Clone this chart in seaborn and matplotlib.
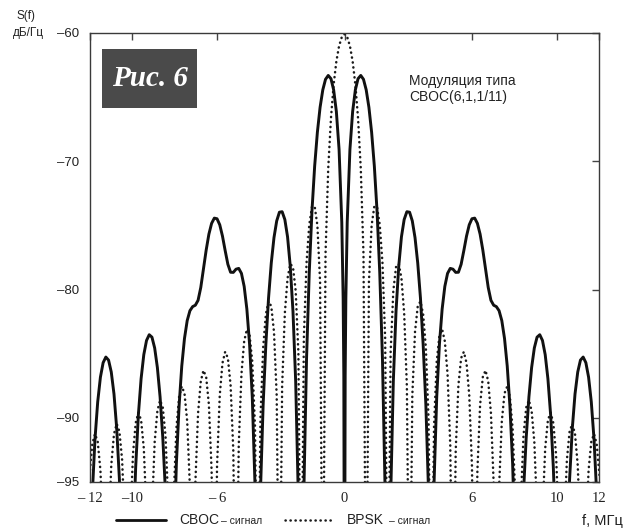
import matplotlib
matplotlib.use("Agg")
import matplotlib.pyplot as plt
import seaborn as sns
import pandas as pd
from matplotlib.lines import Line2D
from matplotlib.patches import Rectangle

# ---------------- data ----------------
freq_neg = [-12.020, -11.892, -11.765, -11.637, -11.509, -11.381,
            -11.253, -11.125, -10.997, -10.869, -10.742, -10.614, -10.486, -10.358,
            -10.230, -10.102, -9.974, -9.846, -9.719, -9.591, -9.463, -9.335,
            -9.207, -9.079, -8.951, -8.823, -8.696, -8.568, -8.440, -8.312,
            -8.184, -8.056, -7.928, -7.800, -7.673, -7.545, -7.417, -7.289,
            -7.161, -7.033, -6.905, -6.777, -6.650, -6.522, -6.394, -6.266,
            -6.138, -6.010, -5.882, -5.754, -5.627, -5.499, -5.371, -5.243,
            -5.115, -4.987, -4.859, -4.731, -4.604, -4.476, -4.348, -4.220,
            -4.092, -3.964, -3.836, -3.708, -3.581, -3.453, -3.325, -3.197,
            -3.069, -2.941, -2.813, -2.685, -2.558, -2.430, -2.302, -2.174,
            -2.046, -1.918, -1.790, -1.662, -1.535, -1.407, -1.279, -1.151,
            -1.023, -0.895, -0.767, -0.639, -0.512, -0.384, -0.256, -0.128,
            -0.064, -0.032]
freq_zero = [0.0]
freq_pos = [0.032, 0.064,
            0.128, 0.256, 0.384, 0.512, 0.639, 0.767, 0.895, 1.023,
            1.151, 1.279, 1.407, 1.535, 1.662, 1.790, 1.918, 2.046,
            2.174, 2.302, 2.430, 2.558, 2.685, 2.813, 2.941, 3.069,
            3.197, 3.325, 3.453, 3.581, 3.708, 3.836, 3.964, 4.092,
            4.220, 4.348, 4.476, 4.604, 4.731, 4.859, 4.987, 5.115,
            5.243, 5.371, 5.499, 5.627, 5.754, 5.882, 6.010, 6.138,
            6.266, 6.394, 6.522, 6.650, 6.777, 6.905, 7.033, 7.161,
            7.289, 7.417, 7.545, 7.673, 7.800, 7.928, 8.056, 8.184,
            8.312, 8.440, 8.568, 8.696, 8.823, 8.951, 9.079, 9.207,
            9.335, 9.463, 9.591, 9.719, 9.846, 9.974, 10.102, 10.230,
            10.358, 10.486, 10.614, 10.742, 10.869, 10.997, 11.125, 11.253,
            11.381, 11.509, 11.637, 11.765, 11.892, 12.020]

cboc_neg = [-102.51, -95.95, -91.66, -88.76, -86.83, -85.70,
            -85.26, -85.50, -86.43, -88.14, -90.80, -94.77, -100.76, -110.57,
            -110.0, -109.75, -99.90, -93.84, -89.76, -86.95, -85.07, -83.97,
            -83.52, -83.71, -84.55, -86.08, -88.36, -91.53, -95.82, -102.26,
            -110.0, -100.84, -93.61, -89.09, -85.96, -83.81, -82.42, -81.65,
            -81.33, -81.22, -80.84, -79.84, -78.41, -76.92, -75.68, -74.84,
            -74.43, -74.48, -74.95, -75.83, -76.96, -78.03, -78.65, -78.66,
            -78.41, -78.35, -78.74, -79.75, -81.52, -84.26, -88.39, -95.22,
            -110.0, -95.83, -88.97, -84.26, -80.65, -77.93, -75.95, -74.65,
            -73.97, -73.93, -74.54, -75.89, -78.17, -81.68, -87.16, -96.41,
            -110.0, -95.92, -85.41, -78.67, -73.90, -70.38, -67.74, -65.79,
            -64.43, -63.61, -63.31, -63.56, -64.43, -66.12, -69.07, -74.75,
            -80.67, -86.69]
cboc_zero = [-110.0]
cboc_pos = [-86.69, -80.67,
            -74.75, -69.07, -66.12, -64.43, -63.56, -63.31, -63.61, -64.43,
            -65.79, -67.74, -70.38, -73.90, -78.67, -85.41, -95.92, -110.0,
            -96.41, -87.16, -81.68, -78.17, -75.89, -74.54, -73.93, -73.97,
            -74.65, -75.95, -77.93, -80.65, -84.26, -88.97, -95.83, -110.0,
            -95.22, -88.39, -84.26, -81.52, -79.75, -78.74, -78.35, -78.41,
            -78.66, -78.65, -78.03, -76.96, -75.83, -74.95, -74.48, -74.43,
            -74.84, -75.68, -76.92, -78.41, -79.84, -80.84, -81.22, -81.33,
            -81.65, -82.42, -83.81, -85.96, -89.09, -93.61, -100.84, -110.0,
            -102.26, -95.82, -91.53, -88.36, -86.08, -84.55, -83.71, -83.52,
            -83.97, -85.07, -86.95, -89.76, -93.84, -99.90, -109.75, -110.0,
            -110.57, -100.76, -94.77, -90.80, -88.14, -86.43, -85.50, -85.26,
            -85.70, -86.83, -88.76, -91.66, -95.95, -102.51]

bpsk_neg = [-94.45, -92.04, -91.25, -91.85, -94.07, -99.31,
            -110.0, -99.11, -93.68, -91.26, -90.46, -91.05, -93.26, -98.49,
            -110.0, -98.27, -92.83, -90.40, -89.59, -90.17, -92.37, -97.59,
            -110.0, -97.34, -91.89, -89.45, -88.63, -89.19, -91.38, -96.58,
            -110.0, -96.31, -90.84, -88.38, -87.54, -88.09, -90.26, -95.44,
            -110.0, -95.13, -89.64, -87.15, -86.30, -86.82, -88.97, -94.12,
            -110.0, -93.76, -88.24, -85.73, -84.85, -85.34, -87.45, -92.57,
            -110.0, -92.14, -86.58, -84.03, -83.10, -83.55, -85.62, -90.69,
            -110.0, -90.15, -84.53, -81.92, -80.92, -81.30, -83.29, -88.28,
            -110.0, -87.55, -81.84, -79.11, -78.00, -78.24, -80.09, -84.93,
            -110.0, -83.84, -77.91, -74.95, -73.56, -73.50, -74.99, -79.40,
            -110.0, -77.22, -70.55, -66.65, -64.02, -62.21, -61.01, -60.32,
            -60.16, -60.11]
bpsk_zero = [-60.10]
bpsk_pos = [-60.11, -60.16,
            -60.32, -61.01, -62.21, -64.02, -66.65, -70.55, -77.22, -110.0,
            -79.40, -74.99, -73.50, -73.56, -74.95, -77.91, -83.84, -110.0,
            -84.93, -80.09, -78.24, -78.00, -79.11, -81.84, -87.55, -110.0,
            -88.28, -83.29, -81.30, -80.92, -81.92, -84.53, -90.15, -110.0,
            -90.69, -85.62, -83.55, -83.10, -84.03, -86.58, -92.14, -110.0,
            -92.57, -87.45, -85.34, -84.85, -85.73, -88.24, -93.76, -110.0,
            -94.12, -88.97, -86.82, -86.30, -87.15, -89.64, -95.13, -110.0,
            -95.44, -90.26, -88.09, -87.54, -88.38, -90.84, -96.31, -110.0,
            -96.58, -91.38, -89.19, -88.63, -89.45, -91.89, -97.34, -110.0,
            -97.59, -92.37, -90.17, -89.59, -90.40, -92.83, -98.27, -110.0,
            -98.49, -93.26, -91.05, -90.46, -91.26, -93.68, -99.11, -110.0,
            -99.31, -94.07, -91.85, -91.25, -92.04, -94.45]

x_ticks = [-12, -10, -6, 0, 6, 10, 12]
x_tick_labels = ["\u2013 12", "\u201310", "\u2013 6", "0", "6", "10", "12"]
y_ticks = [-95, -90, -80, -70, -60]
y_tick_labels = ["\u201395", "\u201390", "\u201380", "\u201370", "\u201360"]

# ---------------- figure ----------------
sns.set_theme(style="white")
plt.rcParams['font.family'] = ['Liberation Sans', 'DejaVu Sans']

W, H = 627, 531
fig = plt.figure(figsize=(W / 100, H / 100), dpi=100)
fig.patch.set_facecolor("white")


def px(x, y):
    return x / W, 1 - y / H


ax = fig.add_axes([90 / W, 1 - 482 / H, 509 / W, 449 / H])
ax.set_facecolor("white")

df = pd.DataFrame({
    "f": freq_neg + freq_zero + freq_pos,
    "CBOC": cboc_neg + cboc_zero + cboc_pos,
    "BPSK": bpsk_neg + bpsk_zero + bpsk_pos,
})

sns.lineplot(data=df, x="f", y="BPSK", ax=ax, color="#1a1a1a", lw=1.8,
             linestyle=(0, (0.1, 1.9)), dash_capstyle="round",
             estimator=None, legend=False)
sns.lineplot(data=df, x="f", y="CBOC", ax=ax, color="#111111", lw=2.1,
             estimator=None, legend=False)

ax.set_xlim(-12, 12)
ax.set_ylim(-95, -60)
ax.set_xlabel("")
ax.set_ylabel("")
ax.set_xticks(x_ticks)
ax.set_xticklabels(x_tick_labels, fontfamily="Liberation Serif", fontsize=10.5)
ax.set_yticks(y_ticks)
ax.set_yticklabels(y_tick_labels, fontsize=9.5)
ax.tick_params(axis="both", direction="in", length=5, width=1.0,
               color="#444444", top=True, right=True, labelcolor="#222222")
ax.tick_params(axis="y", pad=8)
ax.tick_params(axis="x", pad=7)
for s in ax.spines.values():
    s.set_color("#3a3a3a")
    s.set_linewidth(1.0)
    s.set_visible(True)

# y-axis label
fig.text(*px(26, 16), "S(f)", ha="center", va="center", fontsize=8.5, color="#222222")
fig.text(*px(28, 33), "дБ/Гц", ha="center", va="center", fontsize=8.5, color="#222222")

# "Рис. 6" badge
fig.add_artist(Rectangle(px(102, 108), 95 / W, 59 / H, transform=fig.transFigure,
                         facecolor="#4a4a4a", edgecolor="none", zorder=5))
fig.text(*px(150, 79), "Рис. 6", ha="center", va="center", fontsize=21,
         fontfamily="Liberation Serif", fontweight="bold", fontstyle="italic",
         color="white", zorder=6)

# annotation
fig.text(*px(409, 81), "Модуляция типа", ha="left", va="center", fontsize=10, color="#222222")
fig.text(*px(409, 97), "CBOC(6,1,1/11)", ha="left", va="center", fontsize=10, color="#222222")

# legend (drawn manually)
ly = 520
fig.add_artist(Line2D([116 / W, 166 / W], [1 - ly / H, 1 - ly / H], transform=fig.transFigure,
                      color="#111111", lw=2.0))
fig.text(*px(179, ly), "CBOC", ha="left", va="center", fontsize=10, color="#222222")
fig.text(*px(221, ly + 1), "\u2013 сигнал", ha="left", va="center", fontsize=7.5, color="#222222")
fig.add_artist(Line2D([285 / W, 333 / W], [1 - ly / H, 1 - ly / H], transform=fig.transFigure,
                      color="#1a1a1a", lw=1.8, linestyle=(0, (0.1, 1.9)), dash_capstyle="round"))
fig.text(*px(347, ly), "BPSK", ha="left", va="center", fontsize=10, color="#222222")
fig.text(*px(389, ly + 1), "\u2013 сигнал", ha="left", va="center", fontsize=7.5, color="#222222")

fig.text(*px(623, 521), "f, МГц", ha="right", va="center", fontsize=10.5, color="#222222")

fig.savefig("out.png", dpi=100, facecolor="white")
